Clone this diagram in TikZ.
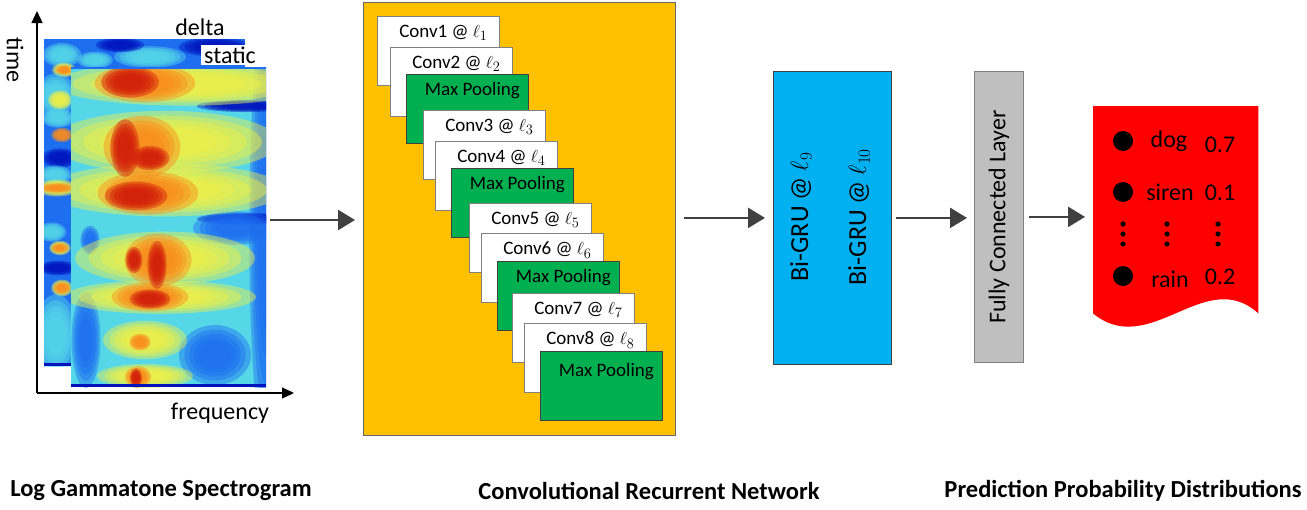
\documentclass[tikz,border=0pt]{standalone}
\usepackage{fontspec}
\setmainfont{Carlito}
\usetikzlibrary{arrows.meta}
\definecolor{crnyellow}{HTML}{FFC000}
\definecolor{poolgreen}{HTML}{00B050}
\definecolor{grublue}{HTML}{00B0F0}
\definecolor{fcgray}{HTML}{BFBFBF}
\definecolor{docred}{HTML}{FF0000}
\definecolor{arrgray}{HTML}{404040}
\definecolor{jcyan}{RGB}{85,215,232}
\definecolor{jyellow}{RGB}{240,240,70}
\definecolor{jorange}{RGB}{250,140,30}
\definecolor{jred}{RGB}{210,30,10}
\definecolor{jblue}{RGB}{30,110,240}
\definecolor{jdblue}{RGB}{0,20,190}
\tikzset{
  arr/.style={draw=arrgray, line width=2.6pt, -{Triangle[length=17pt,width=20pt]}},
  axis/.style={draw=black, line width=1.3pt, -{Triangle[length=12pt,width=11pt]}},
  convbox/.style={draw=gray, line width=0.8pt, fill=white, minimum width=122pt, minimum height=69pt, inner sep=0pt, anchor=north west},
  poolbox/.style={convbox, fill=poolgreen, draw=arrgray},
  lyr/.style={font=\fontsize{19}{22}\selectfont, inner sep=0pt},
  big/.style={font=\fontsize{24}{28}\selectfont, inner sep=0pt},
  gtext/.style={font=\fontsize{26}{30}\selectfont, inner sep=0pt},
  bold/.style={font=\fontsize{24.5}{28}\selectfont\bfseries, inner sep=0pt},
}
\newcommand\blobat[5]{\foreach \s in {1.2,1.02,0.86,0.7,0.55}{\fill[#1, fill opacity=0.45] (#2,#3) ellipse [x radius=#4*\s, y radius=#5*\s];}}
\begin{document}
\begin{tikzpicture}[x=1pt,y=-1pt]
\useasboundingbox (0,0) rectangle (1307,509);

% ---------------- delta spectrogram ----------------
\begin{scope}
\clip (44,39) rectangle (245,366);
\fill[jblue] (44,39) rectangle (245,366);
\blobat{jcyan}{62}{55}{16}{10}
\blobat{jcyan}{150}{57}{30}{9}
\blobat{jcyan}{95}{60}{15}{7}
\blobat{jdblue}{215}{47}{30}{8}
\blobat{jdblue}{120}{45}{20}{6}
\blobat{jyellow}{64}{70}{10}{6}
\blobat{jorange}{64}{70}{7}{4}
\blobat{jcyan}{56}{95}{16}{18}
\blobat{jyellow}{60}{100}{10}{8}
\blobat{jcyan}{58}{118}{14}{8}
\blobat{jorange}{62}{135}{9}{6}
\blobat{jdblue}{60}{158}{15}{8}
\blobat{jcyan}{55}{175}{14}{8}
\blobat{jyellow}{57}{188}{18}{7}
\blobat{jorange}{57}{188}{14}{4}
\blobat{jcyan}{52}{232}{12}{8}
\blobat{jyellow}{60}{248}{9}{6}
\blobat{jorange}{60}{248}{7}{4}
\blobat{jdblue}{58}{268}{16}{6}
\blobat{jyellow}{62}{288}{9}{7}
\blobat{jorange}{62}{288}{7}{5}
\blobat{jcyan}{56}{335}{18}{34}
\fill[jdblue] (44,363) rectangle (245,366);
\end{scope}

% ---------------- static spectrogram ----------------
\begin{scope}
\clip (71,67) rectangle (266,387);
\fill[jcyan] (71,67) rectangle (266,387);
% blue edges
\blobat{jblue}{266}{230}{14}{180}
\blobat{jdblue}{245}{106}{40}{5}
\blobat{jdblue}{245}{219}{40}{5}
\blobat{jblue}{235}{228}{35}{14}
\blobat{jblue}{86}{340}{12}{40}
\blobat{jblue}{90}{240}{8}{12}
\blobat{jblue}{215}{355}{30}{25}
% yellow bands
\blobat{jyellow}{185}{84}{110}{18}
\blobat{jyellow}{165}{142}{95}{26}
\blobat{jyellow}{165}{190}{100}{22}
\blobat{jyellow}{165}{258}{75}{22}
\blobat{jyellow}{160}{297}{80}{14}
\blobat{jyellow}{145}{340}{35}{16}
\blobat{jyellow}{145}{376}{40}{10}
% orange
\blobat{jorange}{145}{83}{42}{16}
\blobat{jorange}{142}{147}{32}{26}
\blobat{jorange}{148}{193}{42}{18}
\blobat{jorange}{158}{260}{28}{22}
\blobat{jorange}{150}{297}{32}{12}
\blobat{jorange}{140}{342}{9}{7}
\blobat{jorange}{138}{377}{11}{9}
% red
\blobat{jred}{130}{82}{24}{13}
\blobat{jred}{125}{148}{12}{24}
\blobat{jred}{150}{158}{16}{10}
\blobat{jred}{136}{196}{26}{12}
\blobat{jred}{157}{265}{8}{20}
\blobat{jred}{134}{260}{7}{11}
\blobat{jred}{150}{299}{17}{8}
\blobat{jred}{136}{378}{5}{8}
\fill[jblue] (71,67) rectangle (266,69);
\fill[jdblue] (71,384) rectangle (266,387);
\end{scope}

% labels of spectrogram
\node[big] (delta) at (200,27) {delta};
\node[big, fill=white, inner xsep=3pt, inner ysep=2pt] (static) at (230,55) {static};
\node[big, rotate=-90] (time) at (15,60) {time};
\node[big] (freq) at (220,413) {frequency};

% axes
\coordinate (origin) at (37,393);
\coordinate (ytip) at (37,11);
\coordinate (xtip) at (294,393);
\draw[axis] (origin) -- (ytip);
\draw[axis] (origin) -- (xtip);

% ---------------- CRN ----------------
\node[draw=gray!80!black, line width=1pt, fill=crnyellow, minimum width=312pt, minimum height=433pt, inner sep=0pt, anchor=north west] (crn) at (363,2) {};

\node[convbox] (b1) at (377,16) {};
\node[lyr] (t1) at ([xshift=5pt,yshift=-17pt]b1.north) {Conv1 @ $\ell_1$};
\node[convbox] (b2) at (390,47) {};
\node[lyr] (t2) at ([xshift=5pt,yshift=-17pt]b2.north) {Conv2 @ $\ell_2$};
\node[poolbox] (b3) at (406,74) {};
\node[lyr] (t3) at ([xshift=5pt,yshift=-17pt]b3.north) {Max Pooling};
\node[convbox] (b4) at (423,110) {};
\node[lyr] (t4) at ([xshift=5pt,yshift=-17pt]b4.north) {Conv3 @ $\ell_3$};
\node[convbox] (b5) at (435,141) {};
\node[lyr] (t5) at ([xshift=5pt,yshift=-17pt]b5.north) {Conv4 @ $\ell_4$};
\node[poolbox] (b6) at (451,168) {};
\node[lyr] (t6) at ([xshift=5pt,yshift=-17pt]b6.north) {Max Pooling};
\node[convbox] (b7) at (469,203) {};
\node[lyr] (t7) at ([xshift=5pt,yshift=-17pt]b7.north) {Conv5 @ $\ell_5$};
\node[convbox] (b8) at (481,233) {};
\node[lyr] (t8) at ([xshift=5pt,yshift=-17pt]b8.north) {Conv6 @ $\ell_6$};
\node[poolbox] (b9) at (497,261) {};
\node[lyr] (t9) at ([xshift=5pt,yshift=-17pt]b9.north) {Max Pooling};
\node[convbox] (b10) at (512,293) {};
\node[lyr] (t10) at ([xshift=5pt,yshift=-17pt]b10.north) {Conv7 @ $\ell_7$};
\node[convbox] (b11) at (524,323) {};
\node[lyr] (t11) at ([xshift=5pt,yshift=-17pt]b11.north) {Conv8 @ $\ell_8$};
\node[poolbox] (b12) at (540,351) {};
\node[lyr] (t12) at ([xshift=5pt,yshift=-21pt]b12.north) {Max Pooling};

% ---------------- Bi-GRU ----------------
\node[draw=arrgray, line width=0.8pt, fill=grublue, minimum width=118pt, minimum height=293pt, inner sep=0pt, anchor=north west] (gru) at (773,71) {};
\node[gtext, rotate=90] (g1) at (801,217) {Bi-GRU @ $\ell_9$};
\node[gtext, rotate=90] (g2) at (859,217) {Bi-GRU @ $\ell_{10}$};

% ---------------- FC ----------------
\node[draw=gray, line width=0.8pt, fill=fcgray, minimum width=49pt, minimum height=291pt, inner sep=0pt, anchor=north west] (fc) at (974,71) {};
\node[big, rotate=90] (fct) at (fc.center) {Fully Connected Layer};

% ---------------- document ----------------
\node[minimum width=165pt, minimum height=207pt, inner sep=0pt, anchor=north west] (doc) at (1093,106) {};
\fill[docred] (doc.north west) -- (doc.north east) -- (doc.south east)
  .. controls (1205,265) and (1150,360) .. (doc.south west) -- cycle;
\foreach \yy in {141,192,276} \fill[black] (1123,\yy) circle (10);
\node[big] (dog) at (1169,141) {dog};
\node[big] (siren) at (1170,192) {siren};
\node[big] (rain) at (1170,279) {rain};
\node[big] (p1) at (1220,145) {0.7};
\node[big] (p2) at (1220,193) {0.1};
\node[big] (p3) at (1220,277) {0.2};
\foreach \xx in {1123,1167,1218} \foreach \yy in {224,234,244} \fill[black] (\xx,\yy) circle (2.6);

% ---------------- arrows ----------------
\coordinate (specout) at (270,220);
\draw[arr, shorten >=8pt] (specout) -- (specout -| crn.west);
\draw[arr, shorten <=8pt, shorten >=8pt] (crn.east |- gru.west) -- (gru.west);
\draw[arr, shorten <=4pt, shorten >=7pt] (gru.east) -- (gru.east -| fc.west);
\draw[arr, shorten <=5pt, shorten >=8pt] (fc.east) -- (fc.east -| doc.west);

% ---------------- bottom labels ----------------
\node[bold] (l1) at (161,491) {Log Gammatone Spectrogram};
\node[bold] (l2) at (649,491) {Convolutional Recurrent Network};
\node[bold] (l3) at (1123,491) {Prediction Probability Distributions};
\end{tikzpicture}
\end{document}
